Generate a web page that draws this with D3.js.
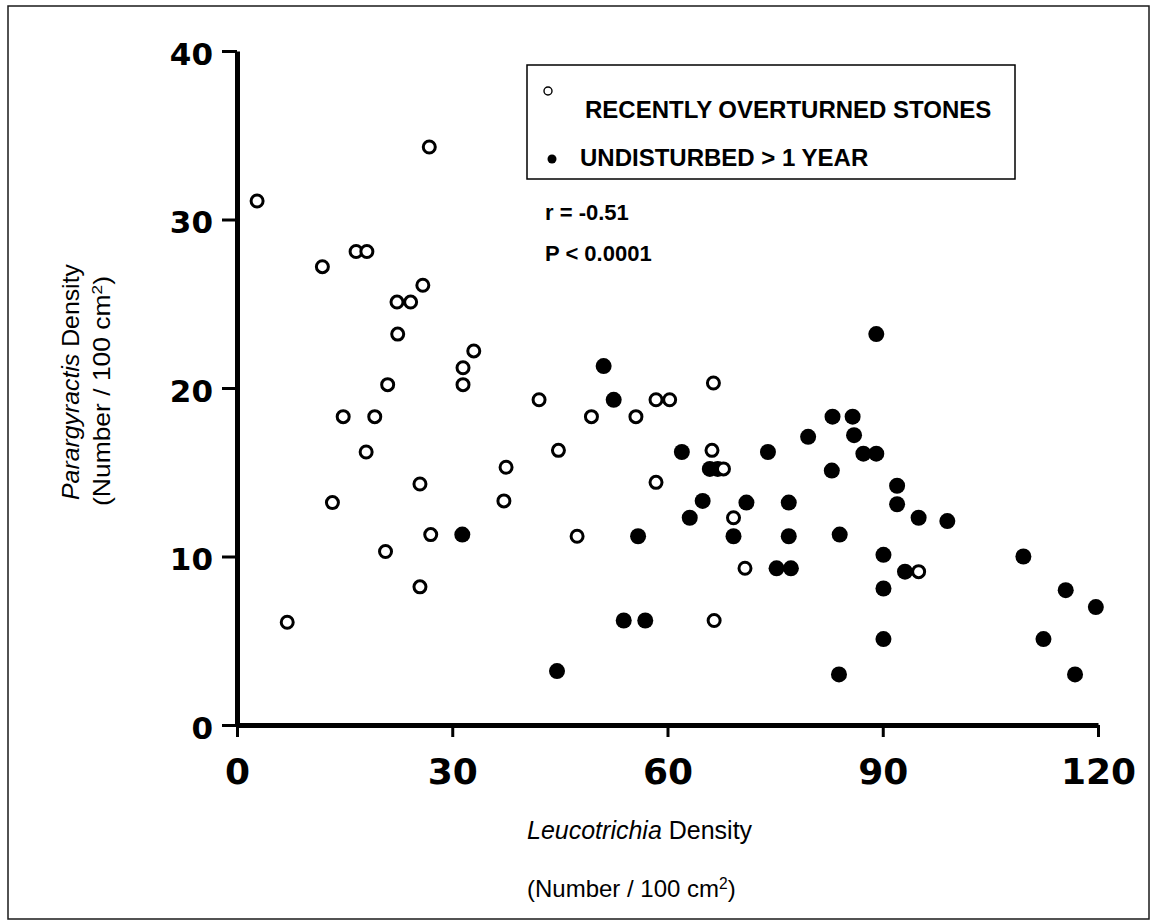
<!DOCTYPE html>
<html>
<head>
<meta charset="utf-8">
<script src="https://cdn.jsdelivr.net/npm/d3@7/dist/d3.min.js"></script>
<style>
  html, body { margin: 0; padding: 0; background: #fff; }
  svg { display: block; }
</style>
</head>
<body>
<svg id="chart" width="1154" height="924"></svg>
<script>
// Leucotrichia density (x) vs Parargyractis density (y), per 100 cm²
const overturnedX = [2.8, 26.8, 16.6, 18.1, 11.9, 25.9, 22.3, 24.2, 22.4, 33.0, 31.5, 31.5, 21.0, 14.8, 19.2, 18.0, 37.5, 25.5, 13.3, 37.2, 27.0, 20.7, 25.5, 7.0,
                     66.4, 42.1, 58.4, 60.3, 49.4, 55.6, 44.8, 66.2, 67.8, 58.4, 69.2, 47.4, 70.8, 66.5, 95.0];
const overturnedY = [31.1, 34.3, 28.1, 28.1, 27.2, 26.1, 25.1, 25.1, 23.2, 22.2, 21.2, 20.2, 20.2, 18.3, 18.3, 16.2, 15.3, 14.3, 13.2, 13.3, 11.3, 10.3, 8.2, 6.1,
                     20.3, 19.3, 19.3, 19.3, 18.3, 18.3, 16.3, 16.3, 15.2, 14.4, 12.3, 11.2, 9.3, 6.2, 9.1];

const undisturbedX = [31.4, 51.1, 52.5, 79.6, 62.0, 74.0, 65.9, 67.0, 64.9, 71.0, 76.9, 63.1, 55.9, 69.2, 76.9, 75.2, 77.2, 53.9, 56.9, 44.6,
                      89.1, 83.0, 85.8, 86.0, 87.3, 89.1, 82.9, 92.0, 92.0, 95.0, 99.0, 84.0, 90.1, 109.6, 93.1, 90.1, 115.5, 119.7, 90.1, 112.4, 83.9, 116.8];
const undisturbedY = [11.3, 21.3, 19.3, 17.1, 16.2, 16.2, 15.2, 15.2, 13.3, 13.2, 13.2, 12.3, 11.2, 11.2, 11.2, 9.3, 9.3, 6.2, 6.2, 3.2,
                      23.2, 18.3, 18.3, 17.2, 16.1, 16.1, 15.1, 14.2, 13.1, 12.3, 12.1, 11.3, 10.1, 10.0, 9.1, 8.1, 8.0, 7.0, 5.1, 5.1, 3.0, 3.0];

const xTicks = [0, 30, 60, 90, 120];
const yTicks = [0, 10, 20, 30, 40];
const legendLabels = ["RECENTLY OVERTURNED STONES", "UNDISTURBED > 1 YEAR"];
const statLines = ["r = -0.51", "P < 0.0001"];

const svg = d3.select("#chart");

// outer frame
svg.append("rect")
  .attr("x", 8).attr("y", 6).attr("width", 1141).attr("height", 913)
  .attr("fill", "none").attr("stroke", "#1a1a1a").attr("stroke-width", 1.5);

const x = d3.scaleLinear().domain([0, 120]).range([237, 1098]);
const y = d3.scaleLinear().domain([0, 40]).range([725, 51]);

const tickFont = "'DejaVu Sans', sans-serif";

// y axis
const yAxis = svg.append("g")
  .attr("transform", `translate(${x(0)},0)`)
  .call(d3.axisLeft(y).tickValues(yTicks).tickSize(15).tickSizeOuter(0).tickPadding(9).tickFormat(d3.format("d")));
yAxis.select(".domain").attr("stroke", "#000").attr("stroke-width", 5);
yAxis.selectAll(".tick line").attr("stroke", "#000").attr("stroke-width", 3);
yAxis.selectAll(".tick text")
  .attr("fill", "#000").attr("font-family", tickFont).attr("font-weight", "bold")
  .attr("font-size", 31).attr("dy", "0.42em");

// x axis
const xAxis = svg.append("g")
  .attr("transform", `translate(0,${y(0)})`)
  .call(d3.axisBottom(x).tickValues(xTicks).tickSize(12).tickSizeOuter(0).tickPadding(21).tickFormat(d3.format("d")));
xAxis.select(".domain").attr("stroke", "#000").attr("stroke-width", 5);
xAxis.selectAll(".tick line").attr("stroke", "#000").attr("stroke-width", 3);
xAxis.selectAll(".tick text")
  .attr("fill", "#000").attr("font-family", tickFont).attr("font-weight", "bold")
  .attr("font-size", 36);

// undisturbed stones: filled dots
svg.append("g").selectAll("circle")
  .data(undisturbedX.map((v, i) => [v, undisturbedY[i]]))
  .join("circle")
  .attr("cx", d => x(d[0])).attr("cy", d => y(d[1]))
  .attr("r", 8).attr("fill", "#000");

// recently overturned stones: open rings
svg.append("g").selectAll("circle")
  .data(overturnedX.map((v, i) => [v, overturnedY[i]]))
  .join("circle")
  .attr("cx", d => x(d[0])).attr("cy", d => y(d[1]))
  .attr("r", 6).attr("fill", "#fff").attr("stroke", "#000").attr("stroke-width", 3);

// legend
const textFont = "'Liberation Sans', Arial, sans-serif";
svg.append("rect")
  .attr("x", 527).attr("y", 65).attr("width", 488).attr("height", 114)
  .attr("fill", "none").attr("stroke", "#000").attr("stroke-width", 1.5);
svg.append("circle").attr("cx", 548).attr("cy", 91).attr("r", 4)
  .attr("fill", "#fff").attr("stroke", "#000").attr("stroke-width", 1.4);
svg.append("circle").attr("cx", 552).attr("cy", 159).attr("r", 4.5).attr("fill", "#000");
svg.append("text").attr("x", 585).attr("y", 118)
  .attr("font-family", textFont).attr("font-weight", "bold").attr("font-size", 24)
  .text(legendLabels[0]);
svg.append("text").attr("x", 580).attr("y", 166)
  .attr("font-family", textFont).attr("font-weight", "bold").attr("font-size", 24)
  .text(legendLabels[1]);

// correlation statistics
svg.selectAll(".stat").data(statLines).join("text")
  .attr("class", "stat")
  .attr("x", 545).attr("y", (d, i) => 220 + i * 41)
  .attr("font-family", textFont).attr("font-weight", "bold").attr("font-size", 22)
  .text(d => d);

// axis titles
function unitsLine(sel) {
  sel.append("tspan").text("(Number / 100 cm");
  sel.append("tspan").attr("baseline-shift", "super").attr("font-size", "65%").text("2");
  sel.append("tspan").text(")");
}

const xTitle = svg.append("text").attr("x", 527).attr("y", 839)
  .attr("font-family", textFont).attr("font-size", 25);
xTitle.append("tspan").attr("font-style", "italic").text("Leucotrichia");
xTitle.append("tspan").text(" Density");

svg.append("text").attr("x", 527).attr("y", 897)
  .attr("font-family", textFont).attr("font-size", 24)
  .call(unitsLine);

// y title is set slightly stretched along its length
const yTitle = svg.append("text")
  .attr("transform", "translate(79,382) rotate(-90) scale(1.08,1)")
  .attr("text-anchor", "middle")
  .attr("font-family", textFont).attr("font-size", 23);
yTitle.append("tspan").attr("font-style", "italic").text("Parargyractis");
yTitle.append("tspan").text(" Density");

svg.append("text")
  .attr("transform", "translate(110,391) rotate(-90) scale(1.15,1)")
  .attr("text-anchor", "middle")
  .attr("font-family", textFont).attr("font-size", 23)
  .call(unitsLine);
</script>
</body>
</html>
